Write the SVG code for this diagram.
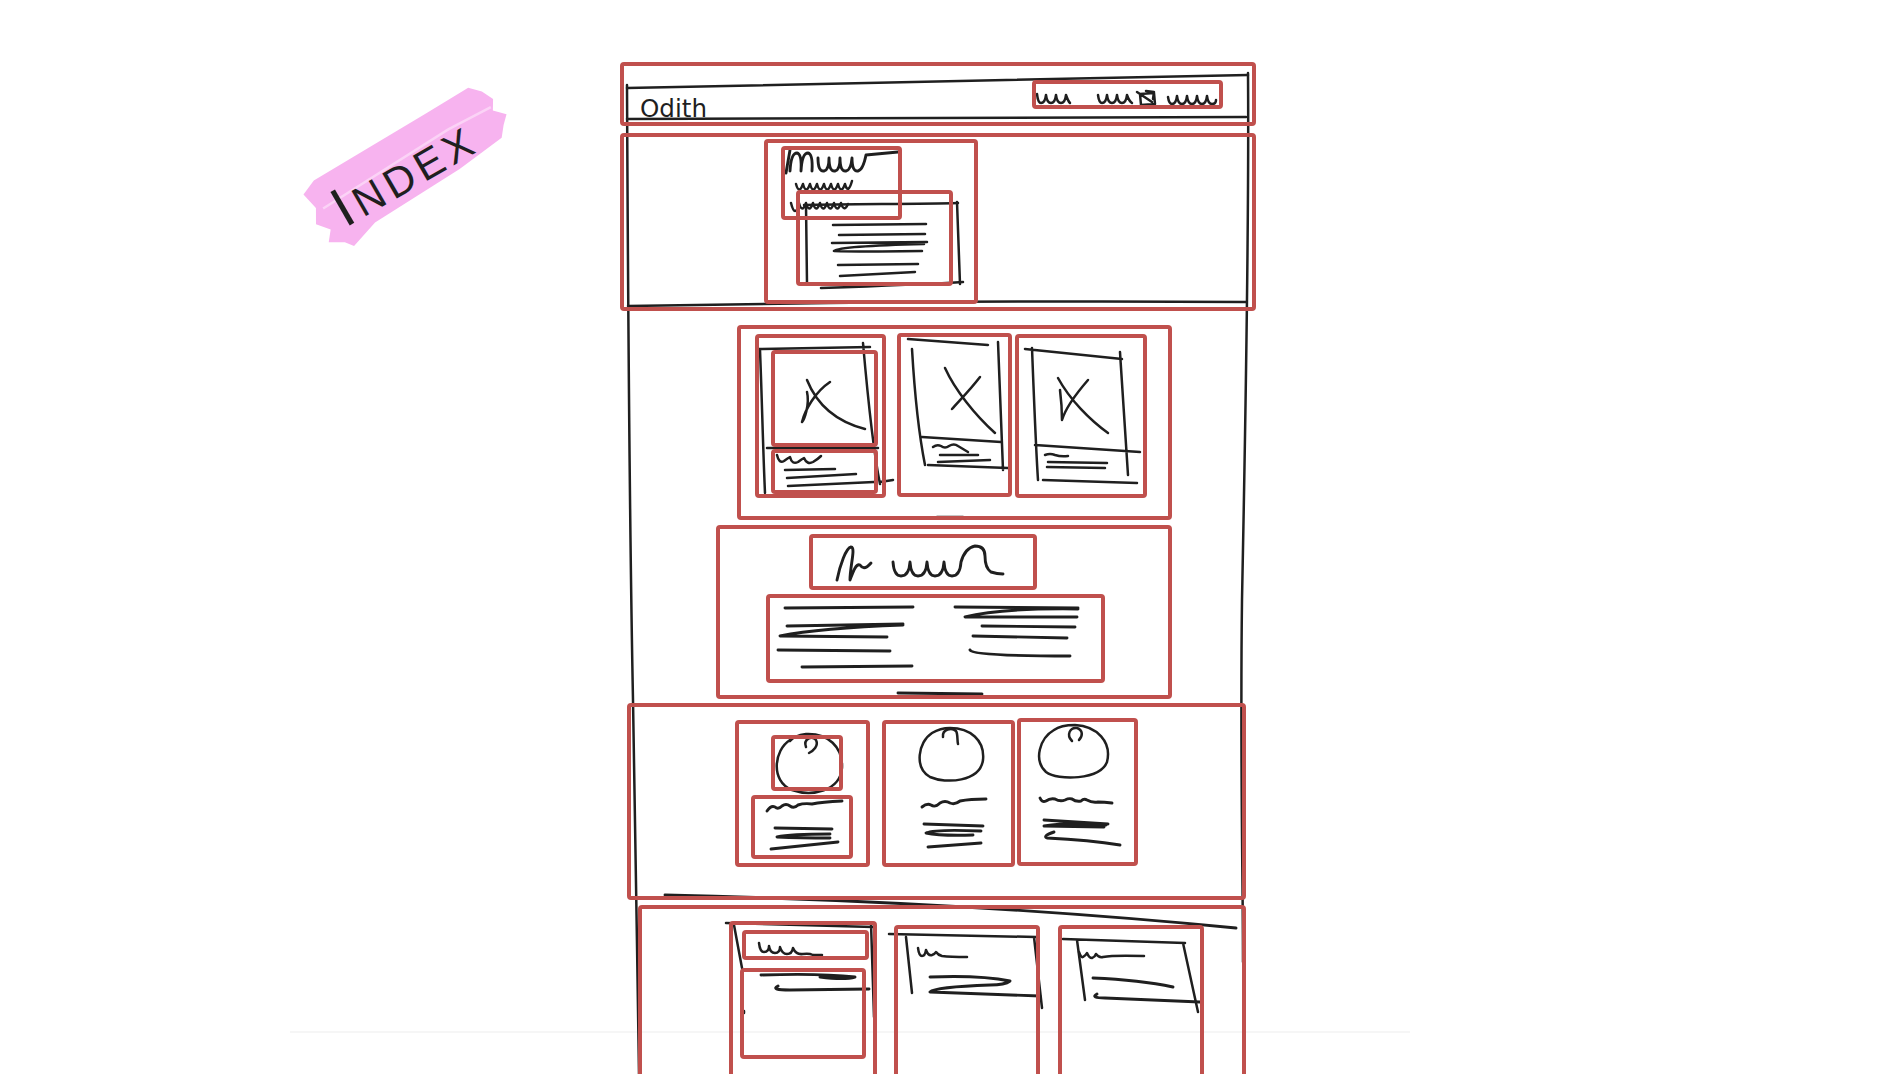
<svg xmlns="http://www.w3.org/2000/svg" width="1904" height="1074" viewBox="0 0 1904 1074">
<style>
.r{fill:none;stroke:#c0504d;stroke-width:4;stroke-linejoin:round}
.k{fill:none;stroke:#1f1f1f;stroke-width:2.5;stroke-linecap:round;stroke-linejoin:round}
.kt{fill:none;stroke:#1f1f1f;stroke-width:2.9;stroke-linecap:round;stroke-linejoin:round}
.hand{font-family:"DejaVu Sans","Liberation Sans",sans-serif;fill:#1f1f1f}
.idx{font-family:"Liberation Sans","DejaVu Sans",sans-serif;fill:#1f1f1f}
</style>
<rect width="1904" height="1074" fill="#ffffff"/>
<line x1="290" y1="1032" x2="1410" y2="1032" stroke="#f3f3f3" stroke-width="1.5"/>

<g id="index-label" transform="translate(410,163) rotate(-30)">
  <path d="M-108 -26 L-92 -33 L40 -35 L88 -36 L98 -26 L104 -14 L98 -4 L108 6 L100 14 L92 24 L40 30 L-60 34 L-90 44 L-96 36 L-110 28 L-102 18 L-112 6 L-104 -8 Z" fill="#f7b3ef"/>
  <path d="M-98 -4 L50 -10 L98 -8" fill="none" stroke="#fbd3f6" stroke-width="2.5"/>
  <text class="idx" x="-10" y="24" text-anchor="middle" letter-spacing="5"><tspan font-size="56">I</tspan><tspan font-size="42">NDEX</tspan></text>
</g>

<g id="sketch">
  <!-- outer page and header -->
  <path class="k" d="M627 88 C800 85 1000 80 1248 75"/>
  <path class="k" d="M627 119 C850 117 1050 119 1246 117"/>
  <path class="k" d="M627 85 C628 300 629 500 633 700 C635 800 637 950 639 1074"/>
  <path class="k" d="M1248 73 C1249 200 1246 400 1242 600 C1240 750 1243 880 1243 962"/>
  <path class="k" d="M628 306 C800 303 1000 300 1246 302"/>
  <text class="hand" x="640" y="117" font-size="25" textLength="67" lengthAdjust="spacingAndGlyphs">Odith</text>
  <!-- nav -->
  <path class="k" d="M1037 94 q1 9 4 9 q4 0 5 -8 q1 8 5 8 q4 0 5 -8 q1 8 5 8 q4 0 5 -8 q2 6 4 8"/>
  <path class="k" d="M1098 95 q1 8 4 8 q4 0 5 -8 q1 8 5 8 q4 0 5 -8 q1 8 5 8 q4 0 5 -8 q2 6 5 8"/>
  <path class="k" d="M1140 94 L1141 105 L1155 104 L1154 93 Z M1137 92 L1152 102 M1146 91 L1154 92 L1153 99"/>
  <path class="k" d="M1168 97 q1 7 4 7 q4 0 5 -8 q1 8 5 8 q4 0 5 -8 q1 8 5 8 q4 0 5 -8 q1 8 5 8 q4 0 5 -8 q1 8 5 8 q4 0 4 -4"/>

  <!-- hero -->
  <path class="kt" d="M786 173 L790 150 M790 171 q1 -18 7 -18 q5 1 4 18 q1 -18 7 -18 q5 1 4 18"/>
  <path class="kt" d="M818 158 q0 14 6 13 q5 -1 5 -13 q0 14 6 13 q5 -1 5 -13 q0 14 6 13 q5 -1 6 -13 q0 14 6 13 q5 -1 8 -16 L898 152"/>
  <path class="k" d="M796 184 q3 11 7 0 q3 11 7 0 q3 11 7 0 q3 11 7 0 q3 11 7 0 q3 11 7 0 q3 11 7 0 q3 11 7 -3"/>
  <path class="k" d="M791 203 q2 8 4 8 q3 0 4 -8 q3 11 7 0 q3 11 7 0 q3 11 7 0 q3 11 7 0 q3 11 7 0 q3 11 7 0 q3 10 7 1"/>
  <path class="k" d="M806 205 L807 283"/>
  <path class="k" d="M804 205 C860 204 920 204 958 203"/>
  <path class="k" d="M957 202 L960 284"/>
  <path class="k" d="M821 288 C880 286 930 284 963 282"/>
  <path class="k" d="M833 225 L926 224 M839 235 L925 234 M832 243 L927 242 M924 244 Q840 246 834 251 Q836 252 922 251 M838 265 L918 264 M840 276 L915 272"/>

  <!-- section 2 cards -->
  <path class="k" d="M758 349 L870 347 M760 350 C762 400 763 450 765 493 M863 343 C868 400 873 450 880 484 M767 448 L878 448 M880 482 L893 480"/>
  <path class="k" d="M807 380 C815 400 830 420 865 429 M830 382 C815 392 805 410 802 422 C804 420 810 405 807 392"/>
  <path class="k" d="M777 455 q2 9 7 6 q4 -3 6 -4 q2 8 8 5 q4 -3 6 -4 q3 7 9 4 q5 -3 8 -6 M785 470 L835 469 M787 478 L856 474 M788 486 L874 482"/>
  <path class="k" d="M908 339 L988 345 M912 349 C915 400 920 440 925 465 M998 342 C1000 400 1002 440 1003 470 M922 437 L1001 442 M928 465 L1008 468"/>
  <path class="k" d="M945 368 C955 390 975 415 995 433 M980 377 C970 390 960 400 952 409"/>
  <path class="k" d="M933 447 q4 -3 8 -1 q4 3 8 0 q5 -3 9 0 q5 3 10 6 M940 455 L978 455 M938 462 L990 460"/>
  <path class="k" d="M1025 349 L1122 359 M1032 348 C1034 400 1036 450 1038 480 M1120 352 C1123 400 1126 450 1128 475 M1035 445 L1140 452"/>
  <path class="k" d="M1058 378 C1070 400 1090 420 1108 433 M1088 380 C1075 395 1065 410 1062 420 C1062 410 1061 398 1060 390"/>
  <path class="k" d="M1045 455 q5 -2 10 0 q6 2 13 1 M1048 462 L1107 463 M1047 467 L1105 468 M1043 480 L1137 483"/>
  <path class="k" d="M937 517 L963 517"/>

  <!-- section 3 -->
  <path class="kt" d="M837 580 C840 565 846 548 851 547 C856 547 850 566 850 580 C853 572 856 563 860 565 C862 568 865 570 871 563"/>
  <path class="kt" d="M893 562 q1 14 8 14 q8 0 9 -14 q1 14 8 14 q8 0 9 -14 q1 14 8 14 q8 0 9 -14 q1 14 8 14 q8 0 9 -14 q4 -14 14 -16 q10 0 10 10 q0 12 6 16 q6 2 12 2"/>
  <path class="kt" d="M785 608 L913 607 M787 626 L903 624 M903 625 Q820 628 780 636 L887 637 M778 650 L890 651 M802 667 L912 666"/>
  <path class="kt" d="M955 607 L1078 608 M1078 609 Q1000 608 965 617 L1077 617 M982 626 L1075 627 M973 636 L1067 638 M970 650 Q972 656 1070 656"/>
  <path class="kt" d="M898 693 L982 694"/>

  <!-- section 4 people -->
  <path class="k" d="M790 740 C774 750 770 781 792 790 C812 797 840 791 842 768 C843 747 828 733 806 734 C798 735 793 737 790 741"/>
  <path class="k" d="M806 747 C803 739 812 735 816 740 C819 746 813 751 809 753"/>
  <path class="kt" d="M767 811 q4 -6 8 -4 q3 3 7 -1 q4 -3 8 0 q4 3 8 -1 q6 -2 14 -1 q10 -2 30 -3 M775 828 L832 829 M830 834 Q790 834 777 837 Q800 838 830 838 M771 849 Q800 846 838 842"/>
  <path class="k" d="M932 733 C918 742 914 768 930 777 C946 784 980 782 983 760 C985 740 970 728 950 728 C943 728 937 730 932 733"/>
  <path class="k" d="M943 737 C942 729 952 727 956 731 C958 734 957 740 958 744"/>
  <path class="kt" d="M922 807 q5 -4 9 -2 q4 3 9 -2 q5 -3 10 0 q5 2 10 -2 q10 -2 26 -2 M924 824 L983 826 M981 831 Q935 829 926 833 Q940 836 973 835 M928 847 L981 843"/>
  <path class="k" d="M1054 730 C1040 738 1033 760 1046 772 C1058 781 1100 780 1107 762 C1112 742 1097 726 1075 725 C1066 725 1058 727 1054 730"/>
  <path class="k" d="M1072 741 C1066 735 1070 727 1077 728 C1083 730 1083 736 1079 740"/>
  <path class="kt" d="M1040 798 q2 5 6 3 q4 -3 9 -2 q5 3 10 1 q4 -2 7 -1 q4 3 9 2 q3 -3 6 -1 q5 3 11 2 q6 0 14 1 M1044 820 L1108 824 M1106 825 Q1070 822 1044 826 L1104 827 M1054 832 Q1042 836 1047 838 Q1090 840 1120 845"/>
  <path class="kt" d="M665 895 C800 898 1000 905 1236 928"/>

  <!-- footer columns -->
  <path class="k" d="M726 923 L873 927 M734 925 L742 968 M871 923 L874 1017"/>
  <path class="k" d="M759 943 q1 9 5 9 q5 0 5 -6 q1 7 6 7 q5 0 5 -6 q2 7 7 7 q5 0 6 -6 q3 7 10 6 q6 -1 10 1 q6 0 9 0"/>
  <path class="kt" d="M761 975 Q820 973 855 977 Q845 980 820 977 M778 986 Q770 990 790 990 L869 989"/>
  <path class="k" d="M744 1011 L744 1013"/>
  <path class="k" d="M889 934 L1036 937 M906 937 L912 993 M1034 937 L1042 1008"/>
  <path class="k" d="M918 948 q1 8 4 8 q3 0 4 -6 q2 6 6 5 q3 -1 4 -3 q2 3 6 4 q8 1 25 1"/>
  <path class="kt" d="M930 977 Q980 975 1010 981 Q1005 985 990 985 Q935 987 930 992 Q980 994 1040 996"/>
  <path class="k" d="M1063 939 L1185 943 M1077 940 L1085 1000 M1183 943 L1198 1012"/>
  <path class="k" d="M1079 952 q2 6 4 5 q3 -2 4 -4 q2 5 5 5 q3 -1 4 -4 q3 4 7 3 q10 -2 41 -1"/>
  <path class="kt" d="M1093 978 Q1140 980 1173 987 M1097 994 Q1090 998 1105 998 L1200 1002"/>
</g>

<g id="annotations">
  <rect id="header" class="r" x="622" y="64" width="632" height="60" rx="2"/>
  <rect id="nav" class="r" x="1034" y="82" width="187" height="25" rx="2"/>
  <rect id="hero" class="r" x="622" y="135" width="632" height="174" rx="2"/>
  <rect id="hero-content" class="r" x="766" y="141" width="210" height="161" rx="2"/>
  <rect id="hero-title" class="r" x="783" y="148" width="117" height="70" rx="2"/>
  <rect id="hero-card" class="r" x="798" y="192" width="153" height="92" rx="2"/>
  <rect id="features" class="r" x="739" y="327" width="431" height="191" rx="2"/>
  <rect id="feature-1" class="r" x="757" y="336" width="127" height="160" rx="2"/>
  <rect id="feature-1-img" class="r" x="773" y="352" width="103" height="93" rx="2"/>
  <rect id="feature-1-text" class="r" x="773" y="451" width="103" height="41" rx="2"/>
  <rect id="feature-2" class="r" x="899" y="335" width="111" height="160" rx="2"/>
  <rect id="feature-3" class="r" x="1017" y="336" width="128" height="160" rx="2"/>
  <rect id="about" class="r" x="718" y="527" width="452" height="170" rx="2"/>
  <rect id="about-title" class="r" x="811" y="536" width="224" height="52" rx="2"/>
  <rect id="about-text" class="r" x="768" y="596" width="335" height="85" rx="2"/>
  <rect id="team" class="r" x="629" y="705" width="615" height="193" rx="2"/>
  <rect id="member-1" class="r" x="737" y="722" width="131" height="143" rx="2"/>
  <rect id="member-1-avatar" class="r" x="773" y="737" width="68" height="52" rx="2"/>
  <rect id="member-1-text" class="r" x="753" y="797" width="98" height="60" rx="2"/>
  <rect id="member-2" class="r" x="884" y="722" width="129" height="143" rx="2"/>
  <rect id="member-3" class="r" x="1019" y="720" width="117" height="144" rx="2"/>
  <rect id="footer" class="r" x="640" y="907" width="604" height="180" rx="2"/>
  <rect id="footer-col-1" class="r" x="731" y="923" width="144" height="160" rx="2"/>
  <rect id="footer-col-1-title" class="r" x="744" y="932" width="123" height="26" rx="2"/>
  <rect id="footer-col-1-box" class="r" x="742" y="970" width="122" height="87" rx="2"/>
  <rect id="footer-col-2" class="r" x="896" y="927" width="142" height="160" rx="2"/>
  <rect id="footer-col-3" class="r" x="1060" y="927" width="142" height="160" rx="2"/>
</g>
</svg>
